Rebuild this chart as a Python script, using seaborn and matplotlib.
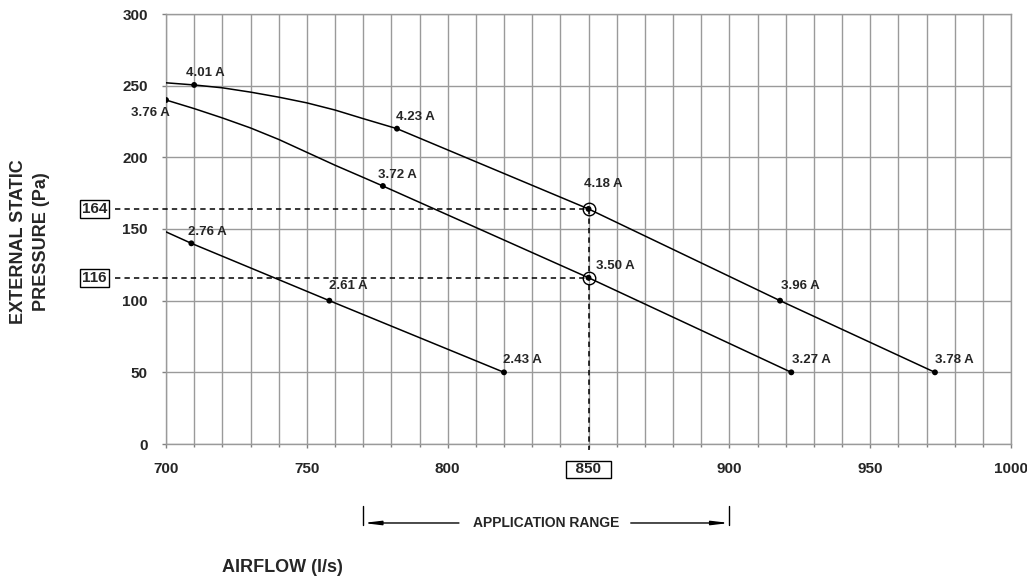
import numpy as np
import pandas as pd
import matplotlib
matplotlib.use("Agg")
import matplotlib.pyplot as plt
import matplotlib.transforms as mtransforms
from matplotlib.ticker import MultipleLocator
import seaborn as sns

# curvas do ventilador (airflow l/s, pressure Pa)
high_x = [700, 710, 720, 730, 740, 750, 760, 770, 782, 850, 918, 973]
high_y = [252, 250.5, 248.5, 245.5, 242, 238, 233, 227, 220, 164, 100, 50]
mid_x = [700, 710, 720, 730, 740, 750, 760, 770, 777, 850, 922]
mid_y = [240, 234, 227.5, 220.5, 212.5, 203.5, 194.5, 186, 180, 116, 50]
low_x = [700, 709, 758, 820]
low_y = [148, 140, 100, 50]

# pontos marcados com corrente
pt_x = [710, 782, 850, 918, 973, 700, 777, 850, 922, 709, 758, 820]
pt_y = [250.5, 220, 164, 100, 50, 240, 180, 116, 50, 140, 100, 50]
pt_amps = ["4.01 A", "4.23 A", "4.18 A", "3.96 A", "3.78 A",
           "3.76 A", "3.72 A", "3.50 A", "3.27 A",
           "2.76 A", "2.61 A", "2.43 A"]

# ponto de operacao
op_airflow = 850
op_pressure = [164, 116]

x_ticks = [700, 750, 800, 850, 900, 950, 1000]
y_ticks = [0, 50, 100, 150, 200, 250, 300]
app_range = [770, 900]

# deslocamento dos rotulos (pixels)
label_off = [(11, 12), (18, 12), (15, 25), (20, 15), (19, 12),
             (-16, -13), (15, 11), (27, 12), (20, 12),
             (16, 11), (19, 15), (18, 12)]

sns.set_theme(style="white")
plt.rcParams['font.family'] = ['Liberation Sans', 'DejaVu Sans']
plt.rcParams['font.weight'] = 'bold'

grid_c = '#9a9a9a'

fig = plt.figure(figsize=(10.27, 5.81), dpi=100)
ax = fig.add_axes([166/1027, 1 - 444/581, 845/1027, 430/581])

for xs, ys in [(high_x, high_y), (mid_x, mid_y), (low_x, low_y)]:
    df = pd.DataFrame({'airflow': xs, 'pressure': ys})
    sns.lineplot(data=df, x='airflow', y='pressure', sort=False, estimator=None,
                 color='black', lw=1.1, ax=ax, zorder=3)

pts = pd.DataFrame({'airflow': pt_x, 'pressure': pt_y, 'amps': pt_amps})
sns.scatterplot(data=pts, x='airflow', y='pressure', color='black', s=18,
                edgecolor='none', ax=ax, zorder=4)

# circulos no ponto de operacao
ax.plot([op_airflow] * len(op_pressure), op_pressure, 'o', ms=9, mfc='none',
        mec='black', mew=1, zorder=4)

for (x, y, lab), off in zip(zip(pt_x, pt_y, pt_amps), label_off):
    ax.annotate(lab, (x, y), xytext=off, textcoords='offset pixels',
                ha='center', va='center', fontsize=9.5, fontweight='bold', zorder=5)

ax.set_xlim(700, 1000)
ax.set_ylim(0, 300)

# linhas tracejadas do ponto de operacao
xmin, xmax = ax.get_xlim()
x_start = xmin - 0.06 * (xmax - xmin)
for p in op_pressure:
    ax.plot([x_start, op_airflow], [p, p], color='black', lw=1.1,
            ls=(0, (3.5, 2.7)), clip_on=False, zorder=3)
ax.plot([op_airflow, op_airflow], [max(op_pressure), -4], color='black', lw=1.1,
        ls=(0, (3.5, 2.7)), clip_on=False, zorder=3)

ax.set_xticks(x_ticks, labels=[('  %d  ' % t) if t == op_airflow else str(t) for t in x_ticks])
ax.set_yticks(y_ticks, labels=[str(t) for t in y_ticks])
ax.xaxis.set_minor_locator(MultipleLocator(10))
ax.grid(True, which='major', axis='both', color=grid_c, lw=1)
ax.grid(True, which='minor', axis='x', color=grid_c, lw=1)
ax.set_axisbelow(True)

ax.tick_params(axis='both', which='major', direction='out', length=3, width=1,
               color='#808080', labelsize=11, pad=10, left=True, bottom=True)
ax.tick_params(axis='x', which='minor', direction='out', length=2, width=1,
               color='#808080', bottom=True)
for lab in ax.get_xticklabels() + ax.get_yticklabels():
    lab.set_fontweight('bold')
    if lab.get_text().strip() == str(op_airflow):
        lab.set_bbox(dict(boxstyle='square,pad=0.1', fc='white', ec='black', lw=1))
for sp in ax.spines.values():
    sp.set_color(grid_c)
    sp.set_linewidth(1)

ax.set_xlabel('')
ax.set_ylabel('')

# caixas 164 / 116 a esquerda
ytrans = mtransforms.blended_transform_factory(ax.transAxes, ax.transData)
for p in op_pressure:
    ax.text(-0.0846, p, str(p), transform=ytrans, ha='center', va='center',
            fontsize=11, fontweight='bold', clip_on=False,
            bbox=dict(boxstyle='square,pad=0.12', fc='white', ec='black', lw=1))

# faixa de aplicacao
xtrans = mtransforms.blended_transform_factory(ax.transData, ax.transAxes)
y_app = -0.1837
mid = (app_range[0] + app_range[1]) / 2
ax.text(mid, y_app, 'APPLICATION RANGE', transform=xtrans, ha='center',
        va='center', fontsize=10, fontweight='bold')
arrow = dict(arrowstyle='-|>,head_length=1.0,head_width=0.12', lw=1,
             color='black', mutation_scale=10, shrinkA=0, shrinkB=0)
ax.annotate('', xy=(app_range[0], y_app), xytext=(mid - 31, y_app),
            xycoords=xtrans, textcoords=xtrans, arrowprops=arrow)
ax.annotate('', xy=(app_range[1], y_app), xytext=(mid + 30, y_app),
            xycoords=xtrans, textcoords=xtrans, arrowprops=arrow)
for xr in app_range:
    ax.plot([xr, xr], [-0.144, -0.188], transform=xtrans, color='black',
            lw=1, clip_on=False)

fig.text(30/1027, 1 - 242/581, 'EXTERNAL STATIC\nPRESSURE (Pa)', rotation=90,
         ha='center', va='center', multialignment='center', fontsize=13,
         fontweight='bold', linespacing=1.4)
fig.text(282/1027, 1 - 568/581, 'AIRFLOW (l/s)', ha='center', va='center',
         fontsize=13, fontweight='bold')

fig.savefig('out.png', dpi=100, facecolor='white')
